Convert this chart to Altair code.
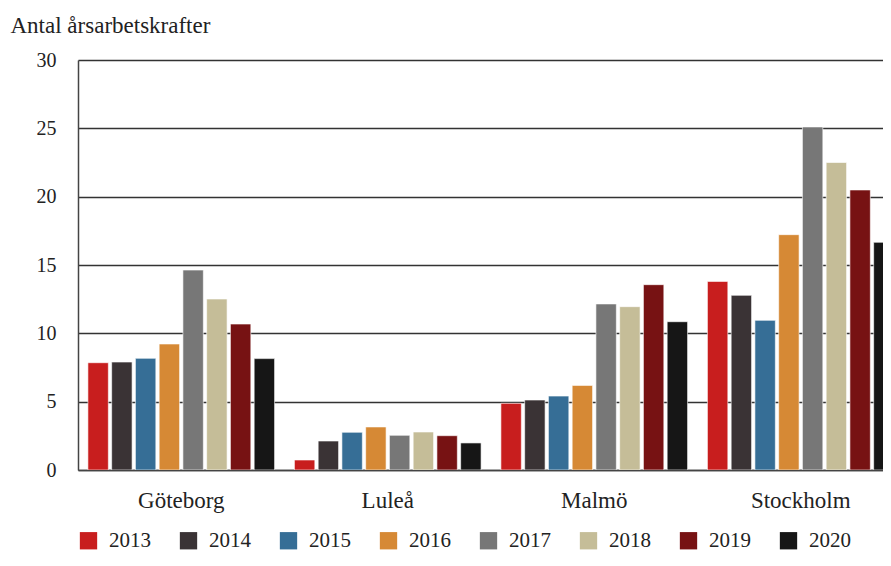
import altair as alt
import pandas as pd

cities = ["Göteborg", "Luleå", "Malmö", "Stockholm"]
years = ["2013", "2014", "2015", "2016", "2017", "2018", "2019", "2020"]
colors = ["#C81E1E", "#3A3335", "#366E96", "#D68935", "#777777", "#C5BD98", "#771213", "#161616"]

goteborg = [7.85, 7.9, 8.17, 9.22, 14.63, 12.51, 10.68, 8.15]
lulea = [0.73, 2.12, 2.76, 3.15, 2.54, 2.78, 2.51, 1.98]
malmo = [4.88, 5.12, 5.41, 6.19, 12.15, 11.95, 13.56, 10.85]
stockholm = [13.8, 12.78, 10.95, 17.22, 25.1, 22.5, 20.49, 16.66]

rows = []
for city, vals in zip(cities, [goteborg, lulea, malmo, stockholm]):
    for yr, v in zip(years, vals):
        rows.append({"Stad": city, "År": yr, "Värde": v})
df = pd.DataFrame(rows)

FONT = "Liberation Serif"

chart = alt.Chart(df).mark_bar(clip=True, stroke="white", strokeWidth=0.6).encode(
    x=alt.X("Stad:N", sort=cities, title=None,
            scale=alt.Scale(range=[0, 826], paddingInner=0.096, paddingOuter=0.048),
            axis=alt.Axis(labelAngle=0, labelFontSize=23, labelPadding=19, ticks=False,
                          domainColor="#444", domainWidth=1.5, labelColor="#222")),
    xOffset=alt.XOffset("År:N", sort=years,
                        scale=alt.Scale(paddingInner=0.14, paddingOuter=0.0)),
    y=alt.Y("Värde:Q", title="Antal årsarbetskrafter",
            scale=alt.Scale(domain=[0, 30], nice=False),
            axis=alt.Axis(values=[0, 5, 10, 15, 20, 25, 30], ticks=False, labelFontSize=20,
                          labelPadding=22, domainColor="#444", domainWidth=1.5,
                          gridColor="#333", gridWidth=1.3, labelColor="#222",
                          titleAngle=0, titleX=-68, titleY=-28, titleAlign="left",
                          titleBaseline="alphabetic", titleFontSize=23,
                          titleFontWeight="normal", titleColor="#222")),
    color=alt.Color("År:N", sort=years, title=None,
                    scale=alt.Scale(domain=years, range=colors),
                    legend=alt.Legend(orient="none", legendX=0, legendY=470,
                                      direction="horizontal", columns=8,
                                      symbolType="square", symbolSize=300,
                                      symbolStrokeWidth=0, symbolOpacity=1,
                                      labelFontSize=21, labelOffset=10,
                                      columnPadding=27, labelColor="#222")),
).properties(
    width=805, height=410,
    autosize=alt.AutoSizeParams(type="none"),
    padding={"left": 70, "top": 52, "right": 0, "bottom": 81},
).configure(
    font=FONT
).configure_view(stroke=None)

chart.save("out.html", embed_options={"renderer": "svg", "actions": False})
